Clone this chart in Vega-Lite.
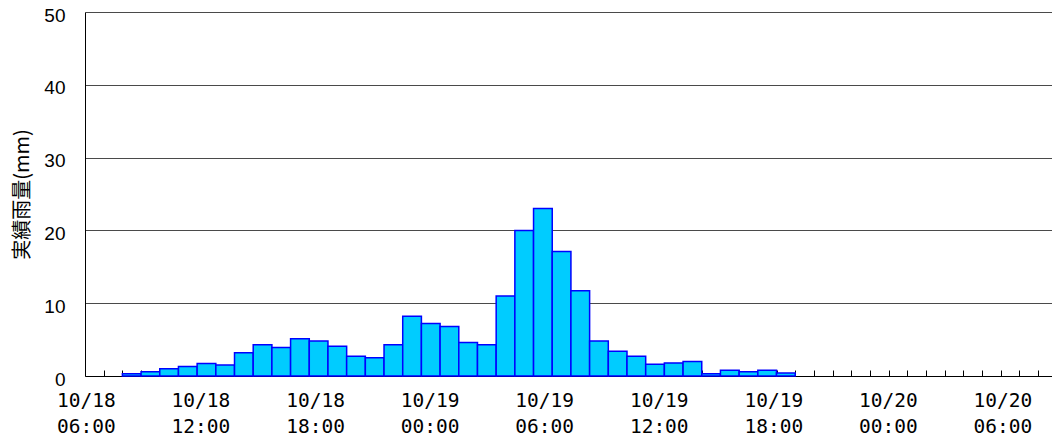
{
  "$schema": "https://vega.github.io/schema/vega-lite/v6.json",
  "width": 967,
  "height": 364,
  "autosize": {"type": "none"},
  "padding": {"left": 85, "top": 12, "right": 0, "bottom": 65},
  "background": "white",
  "data": {
    "values": [
      {"start": 2, "end": 3, "rain": 0.3},
      {"start": 3, "end": 4, "rain": 0.6},
      {"start": 4, "end": 5, "rain": 1.0},
      {"start": 5, "end": 6, "rain": 1.3},
      {"start": 6, "end": 7, "rain": 1.7},
      {"start": 7, "end": 8, "rain": 1.5},
      {"start": 8, "end": 9, "rain": 3.2},
      {"start": 9, "end": 10, "rain": 4.3},
      {"start": 10, "end": 11, "rain": 3.9},
      {"start": 11, "end": 12, "rain": 5.1},
      {"start": 12, "end": 13, "rain": 4.8},
      {"start": 13, "end": 14, "rain": 4.1},
      {"start": 14, "end": 15, "rain": 2.7},
      {"start": 15, "end": 16, "rain": 2.5},
      {"start": 16, "end": 17, "rain": 4.3},
      {"start": 17, "end": 18, "rain": 8.2},
      {"start": 18, "end": 19, "rain": 7.2},
      {"start": 19, "end": 20, "rain": 6.8},
      {"start": 20, "end": 21, "rain": 4.6},
      {"start": 21, "end": 22, "rain": 4.3},
      {"start": 22, "end": 23, "rain": 11.0},
      {"start": 23, "end": 24, "rain": 20.0},
      {"start": 24, "end": 25, "rain": 23.0},
      {"start": 25, "end": 26, "rain": 17.1},
      {"start": 26, "end": 27, "rain": 11.7},
      {"start": 27, "end": 28, "rain": 4.8},
      {"start": 28, "end": 29, "rain": 3.4},
      {"start": 29, "end": 30, "rain": 2.7},
      {"start": 30, "end": 31, "rain": 1.6},
      {"start": 31, "end": 32, "rain": 1.8},
      {"start": 32, "end": 33, "rain": 2.0},
      {"start": 33, "end": 34, "rain": 0.3},
      {"start": 34, "end": 35, "rain": 0.8},
      {"start": 35, "end": 36, "rain": 0.6},
      {"start": 36, "end": 37, "rain": 0.8},
      {"start": 37, "end": 38, "rain": 0.4}
    ]
  },
  "layer": [
    {
      "mark": {"type": "bar", "fill": "#00CCFF", "stroke": "#0000FF", "strokeWidth": 1.5},
      "encoding": {
        "x": {
          "field": "start",
          "type": "quantitative",
          "scale": {"domain": [0, 51.74], "nice": false, "zero": false},
          "axis": {
            "orient": "bottom",
            "title": null,
            "labels": false,
            "grid": false,
            "values": [1,2,3,4,5,6,7,8,9,10,11,12,13,14,15,16,17,18,19,20,21,22,23,24,25,26,27,28,29,30,31,32,33,34,35,36,37,38,39,40,41,42,43,44,45,46,47,48,49,50,51],
            "ticks": true,
            "tickSize": -6,
            "tickColor": "#000000",
            "tickWidth": 1,
            "domain": true,
            "domainColor": "#000000",
            "domainWidth": 1
          }
        },
        "x2": {"field": "end"},
        "y": {
          "field": "rain",
          "type": "quantitative",
          "scale": {"domain": [0, 50], "nice": false},
          "axis": {
            "title": "実績雨量(mm)",
            "titleFont": "Noto Sans CJK JP",
            "titleFontSize": 20,
            "titleFontWeight": "normal",
            "titleColor": "#000000",
            "titleAngle": -90,
            "titleX": -63,
            "titleY": 182,
            "titleAlign": "center",
            "titleBaseline": "middle",
            "values": [0, 10, 20, 30, 40, 50],
            "grid": true,
            "gridColor": "#4a4a4a",
            "gridWidth": 1,
            "ticks": false,
            "domain": true,
            "domainColor": "#000000",
            "domainWidth": 1,
            "labelFont": "Liberation Sans",
            "labelFontSize": 19,
            "labelColor": "#000000",
            "labelPadding": 20,
            "labelBaseline": "middle",
            "labelOffset": 3
          }
        },
        "y2": {"datum": 0}
      }
    },
    {
      "mark": {"type": "point", "opacity": 0},
      "encoding": {
        "x": {
          "field": "start",
          "type": "quantitative",
          "scale": {"domain": [-0.047, 50.595], "nice": false, "zero": false},
          "axis": {
            "orient": "bottom",
            "title": null,
            "grid": false,
            "ticks": false,
            "domain": false,
            "values": [0, 6, 12, 18, 24, 30, 36, 42, 48],
            "labelExpr": "['10/' + (18 + floor((datum.value + 6) / 24)), ((((datum.value + 6) % 24) < 10) ? '0' : '') + ((datum.value + 6) % 24) + ':00']",
            "labelFont": "DejaVu Sans Mono",
            "labelFontSize": 19.5,
            "labelColor": "#000000",
            "labelLineHeight": 26.7,
            "labelBaseline": "top",
            "labelAlign": "center",
            "labelPadding": 15,
            "labelFlush": false,
            "labelOverlap": false,
            "labelBound": false
          }
        }
      }
    }
  ],
  "resolve": {"scale": {"x": "independent"}, "axis": {"x": "independent"}},
  "config": {"view": {"stroke": null}}
}
